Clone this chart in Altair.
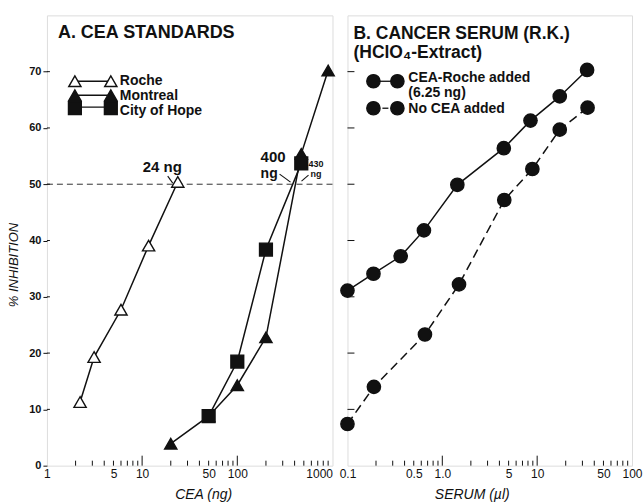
import altair as alt
import pandas as pd

# ---------------- data ----------------
# Panel A: CEA standards (x = CEA ng, y = % inhibition)
roche_x = [2.23, 3.13, 6.0, 11.7, 23.7]
roche_y = [11.3, 19.3, 27.7, 39.1, 50.4]
montreal_x = [20, 50, 100, 200, 470, 900]
montreal_y = [3.9, 8.8, 14.3, 22.8, 55.4, 70.2]
hope_x = [50, 100, 200, 470]
hope_y = [8.8, 18.5, 38.4, 53.7]

# Panel B: cancer serum (x = serum ul, y = % inhibition)
added_x = [0.1, 0.188, 0.364, 0.64, 1.44, 4.45, 8.5, 17.3, 33.6]
added_y = [31.1, 34.1, 37.2, 41.8, 49.9, 56.4, 61.3, 65.6, 70.3]
none_x = [0.1, 0.19, 0.656, 1.5, 4.5, 8.9, 17.3, 34.0]
none_y = [7.4, 14.0, 23.3, 32.2, 47.2, 52.7, 59.7, 63.6]

# axes
xa_labels = [1, 5, 10, 50, 100, 1000]
xa_minor = [2, 3, 4, 5, 6, 7, 8, 9, 20, 30, 40, 50, 60, 70, 80, 90,
            200, 300, 400, 500, 600, 700, 800, 900]
xa_major = [10, 100]
xb_labels = [0.1, 0.5, 1, 5, 10, 50, 100]
xb_minor = [0.2, 0.3, 0.4, 0.5, 0.6, 0.7, 0.8, 0.9, 2, 3, 4, 5, 6, 7, 8, 9,
            20, 30, 40, 50, 60, 70, 80, 90]
xb_major = [1, 10]
y_labels = [0, 10, 20, 30, 40, 50, 60, 70]
y_ticks = [10, 20, 30, 40, 50, 60, 70]
ref_level = [50]

# ---------------- styling ----------------
FONT = "Liberation Sans"
INK = "#111111"
WA, WB, H = 286, 285, 451
one = pd.DataFrame({"k": [0]})


def xy(xs, ys):
    return pd.DataFrame({"x": xs, "y": ys})


XA = alt.X("x:Q", scale=alt.Scale(type="log", domain=[1, 1000]),
           axis=alt.Axis(values=xa_labels, format="d", ticks=False, domain=False,
                         grid=False, labelFlush=False, labelFontSize=12,
                         labelFont=FONT, labelColor=INK, labelPadding=3,
                         labelAlign={"condition": {"test": "datum.value == 1000", "value": "right"},
                                     "value": "center"}),
           title=None)
XB = alt.X("x:Q", scale=alt.Scale(type="log", domain=[0.1, 100]),
           axis=alt.Axis(values=xb_labels, ticks=False, domain=False, grid=False,
                         labelFlush=False, labelFontSize=12, labelFont=FONT,
                         labelColor=INK, labelPadding=3,
                         labelExpr="datum.value < 1 ? format(datum.value, '.1f') : (datum.value == 1 ? '1.0' : format(datum.value, 'd'))"),
           title=None)
YA = alt.Y("y:Q", scale=alt.Scale(domain=[0, 80], nice=False),
           axis=alt.Axis(values=y_labels, tickSize=4, tickColor=INK, domain=False,
                         grid=False, labelFontSize=11, labelFontWeight="bold",
                         labelFont=FONT, labelColor=INK, labelPadding=2),
           title=None)
YB = alt.Y("y:Q", scale=alt.Scale(domain=[0, 80], nice=False), axis=None, title=None)


def txt(s, x, y, size, weight="normal", style="normal", align="left", angle=0,
        baseline="alphabetic"):
    return alt.Chart(one).mark_text(
        text=s, font=FONT, fontSize=size, fontWeight=weight, fontStyle=style,
        align=align, baseline=baseline, angle=angle, color=INK
    ).encode(x=alt.value(x), y=alt.value(y))


def seg(x1, y1, x2, y2, width=1.3):
    return alt.Chart(one).mark_rule(color=INK, strokeWidth=width).encode(
        x=alt.value(x1), y=alt.value(y1), x2=alt.value(x2), y2=alt.value(y2))


def sym(shape, x, y, size, fill):
    return alt.Chart(one).mark_point(
        shape=shape, filled=True, fill=fill, stroke=INK, strokeWidth=1.4,
        size=size, opacity=1).encode(x=alt.value(x), y=alt.value(y))


def series_line(df, X, Y, dash=None):
    kw = dict(color=INK, strokeWidth=1.5)
    if dash:
        kw["strokeDash"] = dash
    return alt.Chart(df).mark_line(**kw).encode(x=X, y=Y)


def series_pts(df, X, Y, shape, size, fill):
    return alt.Chart(df).mark_point(
        shape=shape, filled=True, fill=fill, stroke=INK, strokeWidth=1.4,
        size=size, opacity=1).encode(x=X, y=Y)


TRI, SQ, CIR = 150, 165, 177

# ---------------- Panel A ----------------
anchor = alt.Chart(one).mark_rect(fill="white", strokeWidth=0).encode(
    x=alt.value(-46), x2=alt.value(-45), y=alt.value(-14), y2=alt.value(-13))

refline = alt.Chart(pd.DataFrame({"y": ref_level})).mark_rule(
    color="#333333", strokeWidth=1, strokeDash=[6, 4]).encode(
    y=YA, x=alt.value(0), x2=alt.value(WA))

ya_in = alt.Chart(pd.DataFrame({"y": y_ticks})).mark_rule(color=INK, strokeWidth=1).encode(
    y=YA, x=alt.value(0), x2=alt.value(3))
xa_min = alt.Chart(pd.DataFrame({"x": xa_minor})).mark_rule(color=INK, strokeWidth=1).encode(
    x=XA, y=alt.value(H), y2=alt.value(H - 5))
xa_maj = alt.Chart(pd.DataFrame({"x": xa_major})).mark_rule(color=INK, strokeWidth=1).encode(
    x=XA, y=alt.value(H), y2=alt.value(H - 10))

dr, dm, dh = xy(roche_x, roche_y), xy(montreal_x, montreal_y), xy(hope_x, hope_y)

panel_a = alt.layer(
    anchor, refline, ya_in, xa_min, xa_maj,
    series_line(dr, XA, YA), series_line(dm, XA, YA), series_line(dh, XA, YA),
    series_pts(dr, XA, YA, "triangle-up", TRI, "white"),
    series_pts(dm, XA, YA, "triangle-up", TRI, INK),
    series_pts(dh, XA, YA, "square", SQ, INK),
    # title
    txt("A. CEA STANDARDS", 11, 23, 18, weight="bold"),
    # legend
    seg(28, 66, 64, 66), sym("triangle-up", 28, 66, TRI, "white"), sym("triangle-up", 64, 66, TRI, "white"),
    seg(28, 80, 64, 80), sym("triangle-up", 28, 80, TRI, INK), sym("triangle-up", 64, 80, TRI, INK),
    seg(28, 92, 64, 92), sym("square", 28, 93, SQ, INK), sym("square", 64, 93, SQ, INK),
    txt("Roche", 73, 70, 14, weight="bold"),
    txt("Montreal", 73, 85, 14, weight="bold"),
    txt("City of Hope", 73, 100, 14, weight="bold"),
    # annotations
    txt("24 ng", 96, 157, 15, weight="bold"),
    seg(121, 161, 126, 168, width=1.1),
    txt("400", 214, 147, 15, weight="bold"),
    txt("ng", 214, 163, 14, weight="bold"),
    seg(233, 159, 244, 167, width=1.1),
    txt("430", 262, 152, 9, weight="bold"),
    txt("ng", 264, 162, 9, weight="bold"),
    seg(262, 160, 255, 166, width=1.1),
    # axis titles
    txt("% INHIBITION", -33, 250, 13, style="italic", align="center", angle=270,
        baseline="middle"),
    txt("CEA (ng)", 157, 484, 14, style="italic", align="center"),
).properties(width=WA, height=H)

# ---------------- Panel B ----------------
yb_in = alt.Chart(pd.DataFrame({"y": y_ticks})).mark_rule(color=INK, strokeWidth=1).encode(
    y=YB, x=alt.value(0), x2=alt.value(7))
xb_min = alt.Chart(pd.DataFrame({"x": xb_minor})).mark_rule(color=INK, strokeWidth=1).encode(
    x=XB, y=alt.value(H), y2=alt.value(H - 5))
xb_maj = alt.Chart(pd.DataFrame({"x": xb_major})).mark_rule(color=INK, strokeWidth=1).encode(
    x=XB, y=alt.value(H), y2=alt.value(H - 10))

da, dn = xy(added_x, added_y), xy(none_x, none_y)

panel_b = alt.layer(
    yb_in, xb_min, xb_maj,
    series_line(da, XB, YB), series_line(dn, XB, YB, dash=[9, 5]),
    series_pts(da, XB, YB, "circle", CIR, INK),
    series_pts(dn, XB, YB, "circle", CIR, INK),
    # title
    txt("B. CANCER SERUM (R.K.)", 6, 24, 17.5, weight="bold"),
    txt("(HClO\u2084-Extract)", 6, 43, 17.5, weight="bold"),
    # legend
    seg(26, 66, 50, 66), sym("circle", 26, 66, CIR, INK), sym("circle", 50, 66, CIR, INK),
    seg(35, 93, 41, 93), sym("circle", 26, 93, CIR, INK), sym("circle", 50, 93, CIR, INK),
    txt("CEA-Roche added", 61, 67, 14, weight="bold"),
    txt("(6.25 ng)", 61, 82, 14, weight="bold"),
    txt("No CEA added", 61, 98, 14, weight="bold"),
    # axis title
    txt("SERUM (\u00b5l)", 125, 484, 14, style="italic", align="center"),
).properties(width=WB, height=H)

chart = alt.hconcat(panel_a, panel_b, spacing=15, bounds="flush").properties(
    padding=0
).configure_view(stroke=INK, strokeWidth=1.2).configure(background="white")

chart.save("out.html", embed_options={"renderer": "svg", "actions": False})
